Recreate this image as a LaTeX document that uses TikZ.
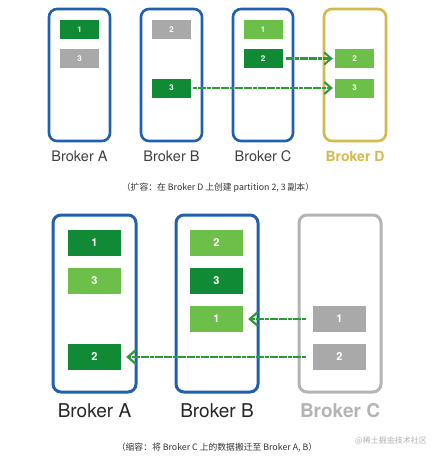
\documentclass[tikz,border=0pt]{standalone}
\usepackage{fontspec}
\setmainfont{TeX Gyre Heros}
\newfontfamily\cjk{Noto Sans CJK SC}
\usetikzlibrary{arrows.meta}
\definecolor{dgreen}{HTML}{118A35}
\definecolor{lgreen}{HTML}{6CBF48}
\definecolor{pgray}{HTML}{A9A9A9}
\definecolor{bblue}{HTML}{2060AE}
\definecolor{byellow}{HTML}{D4B94C}
\definecolor{bgray}{HTML}{B4B4B4}
\definecolor{agreen}{HTML}{2A9A3A}
\definecolor{capgray}{HTML}{333333}
\tikzset{
  broker/.style={draw, rounded corners=8pt, line width=2.6pt, inner sep=0pt},
  parttop/.style={inner sep=0pt, minimum width=39pt, minimum height=19pt, text=white, font=\fontsize{8}{9}\selectfont\bfseries},
  partbot/.style={inner sep=0pt, minimum width=53pt, minimum height=26pt, text=white, font=\fontsize{11}{12}\selectfont\bfseries},
  labtop/.style={font=\fontsize{14.5}{16}\selectfont, text=black!75},
  labbot/.style={font=\fontsize{19}{21}\selectfont, text=black!85},
  caption/.style={font=\cjk\fontsize{8.8}{10}\selectfont, text=capgray},
  move/.style={draw=agreen, line width=2.3pt, dash pattern=on 4pt off 0.6pt, -{Straight Barb[length=7pt,width=12pt,line width=2pt]}},
  movebig/.style={move, -{Straight Barb[length=8pt,width=14pt,line width=2.2pt]}},
}
\begin{document}
\begin{tikzpicture}[x=1pt,y=-1pt]
\useasboundingbox (0,0) rectangle (445,459);
\fill[white] (0,0) rectangle (445,459);
% top brokers
\node[broker, draw=bblue, minimum width=61pt, minimum height=132pt] (tA) at (79.5,75) {};
\node[broker, draw=bblue, minimum width=61pt, minimum height=132pt] (tB) at (171.5,75) {};
\node[broker, draw=bblue, minimum width=60pt, minimum height=132pt] (tC) at (263,75) {};
\node[broker, draw=byellow, minimum width=62pt, minimum height=132pt] (tD) at (355,75) {};
% top partitions
\node[parttop, fill=dgreen] (ta1) at (79.5,29.5) {1};
\node[parttop, fill=pgray] (ta3) at (79.5,58.5) {3};
\node[parttop, fill=pgray] (tb2) at (171.5,29.5) {2};
\node[parttop, fill=dgreen] (tb3) at (171.5,88) {3};
\node[parttop, fill=lgreen] (tc1) at (263,29.5) {1};
\node[parttop, fill=dgreen] (tc2) at (263,58.5) {2};
\node[parttop, fill=lgreen] (td2) at (354.5,58.5) {2};
\node[parttop, fill=lgreen] (td3) at (354.5,88) {3};
% top labels
\node[labtop] (ltA) at (79.5,156) {Broker A};
\node[labtop] (ltB) at (171.5,156) {Broker B};
\node[labtop] (ltC) at (263,156) {Broker C};
\node[labtop, text=byellow, font=\fontsize{14}{16}\selectfont\bfseries] (ltD) at (355,156) {Broker D};
% top arrows
\draw[move, shorten <=3pt, shorten >=2pt] (tc2.east) -- (td2.west);
\draw[move, shorten <=2pt, shorten >=2pt] (tb3.east) -- (td3.west);
\node[caption] (cap1) at (218,188) {（扩容：在 Broker D 上创建 partition 2, 3 副本）};
% bottom brokers
\node[broker, draw=bblue, line width=3pt, minimum width=83pt, minimum height=177pt] (bA) at (94.5,303.5) {};
\node[broker, draw=bblue, line width=3pt, minimum width=82pt, minimum height=177pt] (bB) at (217,303.5) {};
\node[broker, draw=bgray, line width=3pt, minimum width=82pt, minimum height=177pt] (bC) at (340,303.5) {};
% bottom partitions
\node[partbot, fill=dgreen] (ba1) at (94.5,242.5) {1};
\node[partbot, fill=lgreen] (ba3) at (94.5,281) {3};
\node[partbot, fill=dgreen] (ba2) at (94.5,357) {2};
\node[partbot, fill=lgreen] (bb2) at (216.5,242.5) {2};
\node[partbot, fill=dgreen] (bb3) at (216.5,281) {3};
\node[partbot, fill=lgreen] (bb1) at (216.5,319) {1};
\node[partbot, fill=pgray] (bc1) at (339.5,319) {1};
\node[partbot, fill=pgray] (bc2) at (339.5,357) {2};
% bottom labels
\node[labbot] (lbA) at (94.5,411) {Broker A};
\node[labbot] (lbB) at (217,411) {Broker B};
\node[labbot, text=bgray, font=\fontsize{19}{21}\selectfont\bfseries] (lbC) at (340,411) {Broker C};
% bottom arrows
\draw[movebig, shorten <=7pt, shorten >=5pt] (bc1.west) -- (bb1.east);
\draw[movebig, shorten <=7pt, shorten >=5pt] (bc2.west) -- (ba2.east);
\node[caption] (cap2) at (217,448) {（缩容：将 Broker C 上的数据搬迁至 Broker A, B）};
\node[font=\cjk\fontsize{8}{10}\selectfont, text=black!30] (wm) at (391,441) {@稀土掘金技术社区};
\end{tikzpicture}
\end{document}
